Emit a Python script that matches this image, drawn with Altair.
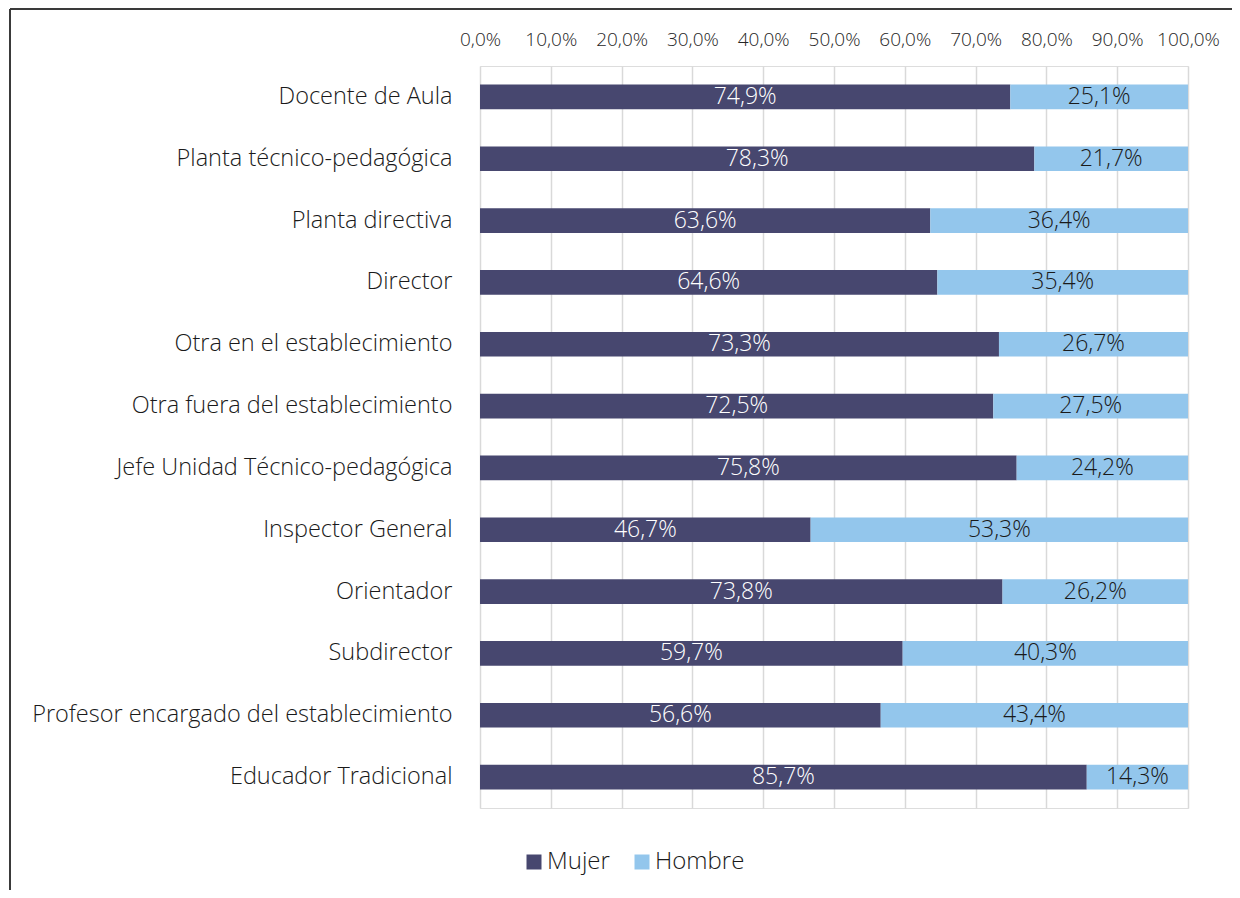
import altair as alt
import pandas as pd

categories = [
    "Docente de Aula",
    "Planta técnico-pedagógica",
    "Planta directiva",
    "Director",
    "Otra en el establecimiento",
    "Otra fuera del establecimiento",
    "Jefe Unidad Técnico-pedagógica",
    "Inspector General",
    "Orientador",
    "Subdirector",
    "Profesor encargado del establecimiento",
    "Educador Tradicional",
]
mujer = [74.9, 78.3, 63.6, 64.6, 73.3, 72.5, 75.8, 46.7, 73.8, 59.7, 56.6, 85.7]
hombre = [25.1, 21.7, 36.4, 35.4, 26.7, 27.5, 24.2, 53.3, 26.2, 40.3, 43.4, 14.3]
series = ["Mujer", "Hombre"]
colors = ["#47476F", "#93C6EC"]
ticks = [0, 10, 20, 30, 40, 50, 60, 70, 80, 90, 100]

rows = []
for c, m, h in zip(categories, mujer, hombre):
    rows.append({"cat": c, "sex": "Mujer", "value": m, "order": 0})
    rows.append({"cat": c, "sex": "Hombre", "value": h, "order": 1})
df = pd.DataFrame(rows)

FONT = "Open Sans"
W, H = 708, 742

base = alt.Chart(df).transform_stack(
    stack="value", as_=["v0", "v1"], groupby=["cat"], sort=[alt.SortField("order")]
).transform_calculate(
    mid="(datum.v0 + datum.v1) / 2",
    label="replace(format(datum.value, '.1f'), '.', ',') + '%'",
)

y_enc = alt.Y(
    "cat:N",
    sort=categories,
    title=None,
    scale=alt.Scale(paddingInner=0.6, paddingOuter=0.3),
    axis=alt.Axis(
        labelFont=FONT,
        labelFontSize=23.5,
        labelFontWeight=300,
        labelColor="#1a1a1a",
        labelPadding=28,
        ticks=False,
        domain=False,
        labelLimit=600,
    ),
)

bars = base.mark_bar().encode(
    x=alt.X(
        "v0:Q",
        scale=alt.Scale(domain=[0, 100]),
        title=None,
        axis=alt.Axis(
            orient="top",
            values=ticks,
            labelExpr="replace(format(datum.value, '.1f'), '.', ',') + '%'",
            labelFont=FONT,
            labelFontSize=19,
            labelFontWeight=300,
            labelColor="#262626",
            labelPadding=17,
            labelOverlap=False,
            labelFlush=False,
            ticks=False,
            domain=False,
            grid=True,
            gridColor="#D9D9D9",
            gridWidth=1.5,
        ),
    ),
    x2="v1:Q",
    y=y_enc,
    color=alt.Color(
        "sex:N",
        scale=alt.Scale(domain=series, range=colors),
        title=None,
        legend=alt.Legend(
            orient="none",
            legendX=42,
            legendY=784,
            direction="horizontal",
            symbolType="square",
            symbolSize=225,
            symbolStrokeWidth=0,
            labelFont=FONT,
            labelFontSize=24,
            labelFontWeight=300,
            labelColor="#1a1a1a",
            labelOffset=1,
            columnPadding=20,
            padding=0,
        ),
    ),
    order=alt.Order("order:Q"),
)

labels = base.mark_text(font=FONT, fontSize=23, fontWeight=300).encode(
    x="mid:Q",
    y=alt.Y("cat:N", sort=categories),
    text="label:N",
    color=alt.condition(alt.datum.sex == "Mujer", alt.value("white"), alt.value("#1a1a1a")),
)

frame_df = pd.DataFrame({"k": [0]})
frame_top = alt.Chart(frame_df).mark_rule(color="#3a3a3a", strokeWidth=2).encode(
    x=alt.value(-470), x2=alt.value(760), y=alt.value(-57)
)
frame_left = alt.Chart(frame_df).mark_rule(color="#3a3a3a", strokeWidth=2).encode(
    x=alt.value(-470), y=alt.value(-57), y2=alt.value(830)
)

chart = alt.layer(bars, labels, frame_top, frame_left).properties(
    width=W,
    height=H,
    autosize=alt.AutoSizeParams(type="none"),
    padding={"left": 472, "top": 58, "right": 44, "bottom": 82},
).configure_view(stroke=None).configure(background="white")

chart.save("out.html", embed_options={"renderer": "svg", "actions": False})
